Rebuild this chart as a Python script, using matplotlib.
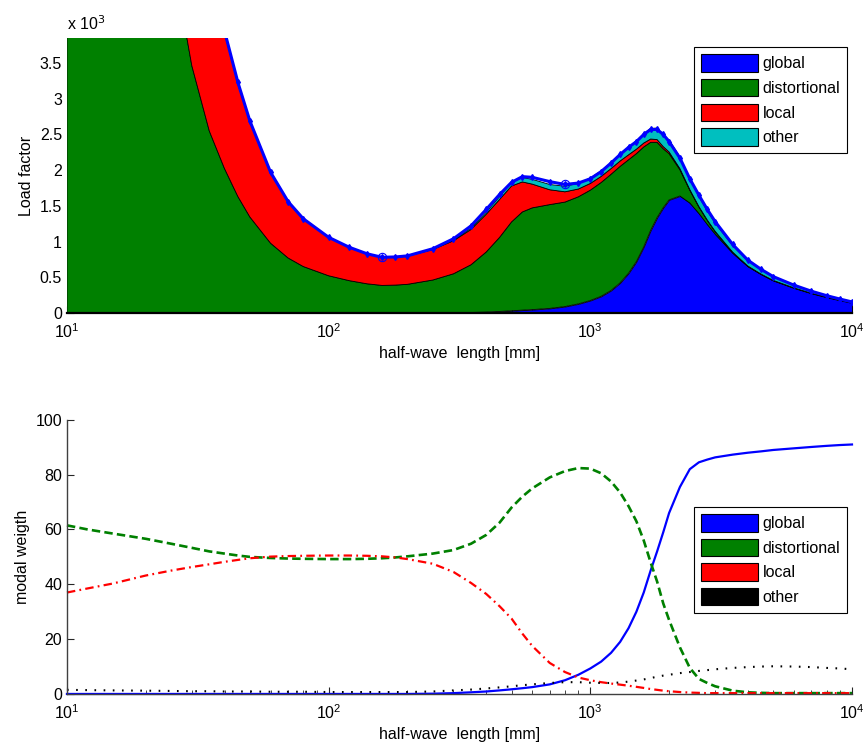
import numpy as np
import matplotlib
matplotlib.use('Agg')
import matplotlib.pyplot as plt
from matplotlib.patches import Patch
from matplotlib.ticker import FixedLocator, FuncFormatter, LogLocator, NullFormatter

plt.rcParams['font.family'] = ['Liberation Sans', 'DejaVu Sans']
plt.rcParams['font.size'] = 11.5

# half-wave lengths [mm]
lengths = np.array([10, 12, 15, 20, 25, 30, 35, 40, 45, 50, 60, 70, 80, 100, 120, 140,
                    160, 180, 200, 250, 300, 350, 400, 450, 500, 550, 600, 700, 800,
                    900, 1000, 1100, 1200, 1300, 1400, 1500, 1600, 1700, 1800, 1900,
                    2000, 2200, 2400, 2600, 2800, 3000, 3500, 4000, 4500, 5000, 6000,
                    7000, 8000, 9000, 10000])

# buckling load factor
load_factor = np.array([52000, 37000, 24000, 14000, 9300, 6500, 4900, 3950, 3230, 2690,
                        1970, 1560, 1320, 1060, 920, 830, 780, 785, 800, 900, 1040, 1220,
                        1450, 1660, 1830, 1910, 1900, 1840, 1800, 1820, 1880, 1980, 2100,
                        2220, 2320, 2400, 2500, 2570, 2570, 2500, 2400, 2170, 1880, 1650,
                        1450, 1280, 960, 740, 610, 510, 390, 305, 243, 195, 155])

# modal participation [%]
w_global = np.array([0.0, 0.0, 0.0, 0.0, 0.0, 0.0, 0.0, 0.0, 0.0, 0.0, 0.0, 0.0, 0.0,
                     0.0, 0.0, 0.0, 0.0, 0.0, 0.0, 0.1, 0.3, 0.6, 0.9, 1.3, 1.7, 2.1,
                     2.5, 3.5, 5.0, 7.0, 9.3, 11.8, 15.0, 19.0, 24.0, 30.0, 37.0, 45.0,
                     52.0, 59.0, 66.0, 75.5, 82.0, 84.5, 85.5, 86.3, 87.3, 88.0, 88.5,
                     89.0, 89.6, 90.1, 90.5, 90.8, 91.0])
w_dist = np.array([61.5, 60.0, 58.5, 56.6, 54.8, 53.3, 52.0, 51.2, 50.5, 50.0, 49.6,
                   49.4, 49.3, 49.2, 49.2, 49.3, 49.5, 49.8, 50.2, 51.2, 52.5, 54.8,
                   58.0, 62.5, 68.0, 72.0, 75.0, 79.0, 81.3, 82.4, 82.2, 80.5, 77.5,
                   73.5, 68.5, 63.0, 56.0, 48.0, 41.0, 33.0, 27.0, 17.0, 9.5, 5.5, 4.0,
                   2.8, 1.2, 0.6, 0.4, 0.3, 0.3, 0.3, 0.3, 0.3, 0.3])
w_local = np.array([37.0, 38.5, 40.3, 43.2, 45.0, 46.3, 47.3, 48.2, 48.9, 49.5, 50.1,
                    50.3, 50.4, 50.5, 50.5, 50.4, 50.2, 49.8, 49.2, 47.5, 44.5, 40.5,
                    36.5, 32.0, 27.5, 22.0, 17.5, 11.3, 8.0, 6.0, 5.0, 4.3, 3.8, 3.4,
                    3.0, 2.6, 2.2, 1.8, 1.5, 1.2, 1.0, 0.7, 0.5, 0.4, 0.3, 0.3, 0.3,
                    0.3, 0.3, 0.3, 0.3, 0.3, 0.3, 0.3, 0.3])
w_other = np.array([1.5, 1.4, 1.3, 1.2, 1.1, 1.0, 1.0, 0.9, 0.9, 0.9, 0.8, 0.8, 0.8,
                    0.7, 0.7, 0.7, 0.7, 0.7, 0.7, 0.9, 1.3, 1.6, 2.0, 2.4, 2.8, 3.2,
                    3.5, 4.0, 4.3, 4.3, 4.1, 4.0, 4.0, 4.2, 4.5, 4.9, 5.3, 5.8, 6.3,
                    6.7, 7.0, 7.6, 8.0, 8.4, 8.7, 9.0, 9.5, 9.8, 10.0, 10.1, 10.0, 9.8,
                    9.5, 9.3, 9.0])

modes = ['global', 'distortional', 'local', 'other']
weights = [w_global, w_dist, w_local, w_other]
area_colors = ['#0000ff', '#008000', '#ff0000', '#00bfbf']
line_colors = ['#0000ff', '#008000', '#ff0000', '#000000']
line_styles = ['-', (0, (3.2, 1.6)), (0, (3.8, 1.9, 0.8, 1.9)), (0, (0.8, 3.6))]
line_widths = [1.6, 1.9, 1.6, 1.5]

fig = plt.figure(figsize=(8.64, 7.47), dpi=100)


def style_axis(ax):
    ax.set_xscale('log')
    ax.set_xlim(10, 1e4)
    ax.spines['top'].set_visible(False)
    ax.spines['right'].set_visible(False)
    ax.tick_params(which='both', direction='in', colors='#262626', labelcolor='k')
    ax.tick_params(which='major', length=5)
    ax.tick_params(which='minor', length=3)
    ax.tick_params(axis='x', pad=7)
    ax.xaxis.set_minor_locator(LogLocator(base=10, subs=np.arange(2, 10)))
    ax.xaxis.set_minor_formatter(NullFormatter())
    ax.set_xlabel('half-wave  length [mm]', labelpad=3)


def mode_legend(ax, colors, y_top):
    handles = [Patch(facecolor=c, edgecolor='k', linewidth=0.8) for c in colors]
    leg = ax.legend(handles, modes, loc='upper right', bbox_to_anchor=(0.994, y_top),
                    borderaxespad=0, handlelength=3.6, handleheight=1.3,
                    handletextpad=0.25, labelspacing=0.45, borderpad=0.45,
                    fancybox=False, framealpha=1, edgecolor='k')
    leg.get_frame().set_linewidth(0.8)
    leg.set_zorder(10)


# load factor split into modal parts
ax1 = fig.add_axes([0.0775, 0.581, 0.9086, 0.368])
style_axis(ax1)
parts = [load_factor * w / 100 for w in weights]
ax1.stackplot(lengths, *parts, colors=area_colors, edgecolor='k', linewidth=0.6,
              zorder=3)
ax1.plot(lengths, load_factor, color='b', lw=2.2, marker='d', ms=3, zorder=4)
mins = np.where((load_factor[1:-1] < load_factor[:-2]) &
                (load_factor[1:-1] < load_factor[2:]))[0] + 1
ax1.plot(lengths[mins], load_factor[mins], 'o', color='b', mfc='none', ms=6, mew=0.8,
         zorder=5)
ax1.set_ylim(0, 3850)
ax1.yaxis.set_major_locator(FixedLocator(np.arange(0, 3501, 500)))
ax1.yaxis.set_major_formatter(FuncFormatter(lambda v, _: f'{v / 1000:g}'))
ax1.spines['left'].set_visible(False)
ax1.spines['bottom'].set_linewidth(1.6)
ax1.spines['bottom'].set_color('k')
ax1.spines['bottom'].set_zorder(6)
ax1.set_ylabel('Load factor')
ax1.text(0, 1.02, r'x 10$^3$', transform=ax1.transAxes, ha='left', va='bottom')
mode_legend(ax1, area_colors, 0.967)

# modal weights
ax2 = fig.add_axes([0.0775, 0.071, 0.9086, 0.367])
style_axis(ax2)
for w, c, ls, lw in zip(weights, line_colors, line_styles, line_widths):
    ax2.plot(lengths, w, color=c, linestyle=ls, lw=lw, clip_on=False)
ax2.set_ylim(0, 100)
ax2.yaxis.set_major_locator(FixedLocator(np.arange(0, 101, 20)))
for s in ('left', 'bottom'):
    ax2.spines[s].set_color('#404040')
    ax2.spines[s].set_linewidth(1.0)
ax2.set_ylabel('modal weigth')
mode_legend(ax2, line_colors, 0.682)

fig.savefig('out.png', dpi=100)
